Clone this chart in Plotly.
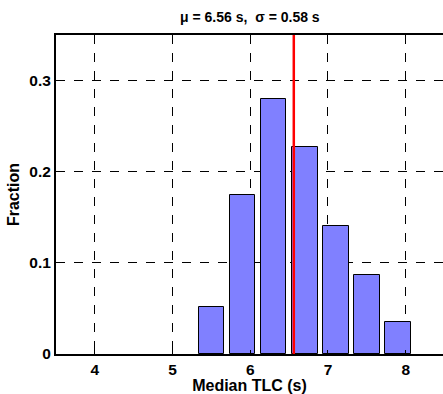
import plotly.graph_objects as go

bin_centers = [5.5, 5.9, 6.3, 6.7, 7.1, 7.5, 7.9]
fractions = [0.052, 0.175, 0.280, 0.227, 0.140, 0.087, 0.035]
mean_val = 6.56
sigma_val = 0.58
x_ticks = [4, 5, 6, 7, 8]
y_ticks = [0, 0.1, 0.2, 0.3]
y_tick_labels = ["0", "0.1", "0.2", "0.3"]

font_family = "Liberation Sans, Arial, sans-serif"

fig = go.Figure()
fig.add_trace(go.Bar(
    x=bin_centers, y=fractions, width=0.33,
    marker=dict(color="#8080FF", line=dict(color="black", width=1)),
    showlegend=False,
))
fig.add_trace(go.Scatter(
    x=[mean_val, mean_val], y=[0, 0.35], mode="lines",
    line=dict(color="#FF0000", width=2.5), showlegend=False,
))

fig.update_layout(
    width=443, height=394,
    margin=dict(l=56, r=0, t=35, b=40),
    plot_bgcolor="white", paper_bgcolor="white",
    font=dict(family=font_family, size=16, color="black"),
    title=dict(text=f"<b>μ = {mean_val:.2f} s,\u00a0\u00a0σ = {sigma_val:.2f} s</b>",
               x=0.564, xanchor="center", y=1 - 17/394, yanchor="middle",
               font=dict(size=14, family=font_family)),
    bargap=0,
)
fig.update_xaxes(
    range=[3.5, 8.48], tickvals=x_ticks, ticktext=[f"<b>{v}</b>" for v in x_ticks],
    tickfont=dict(size=15.5),
    showgrid=True, gridcolor="black", griddash="dash", gridwidth=1,
    showline=True, linecolor="black", linewidth=2, mirror=True,
    ticks="inside", ticklen=4, tickcolor="black",
    title=dict(text="<b>Median TLC (s)</b>", standoff=0, font=dict(size=16)),
    zeroline=False,
)
fig.update_yaxes(
    range=[0, 0.35], tickvals=y_ticks, ticktext=[f"<b>{t}</b>" for t in y_tick_labels],
    tickfont=dict(size=15.5),
    showgrid=True, gridcolor="black", griddash="dash", gridwidth=1,
    showline=True, linecolor="black", linewidth=2,
    ticks="inside", ticklen=4, tickcolor="black",
    title=dict(text="<b>Fraction</b>", standoff=6, font=dict(size=16)),
    zeroline=False,
)

fig.write_html("out.html")
